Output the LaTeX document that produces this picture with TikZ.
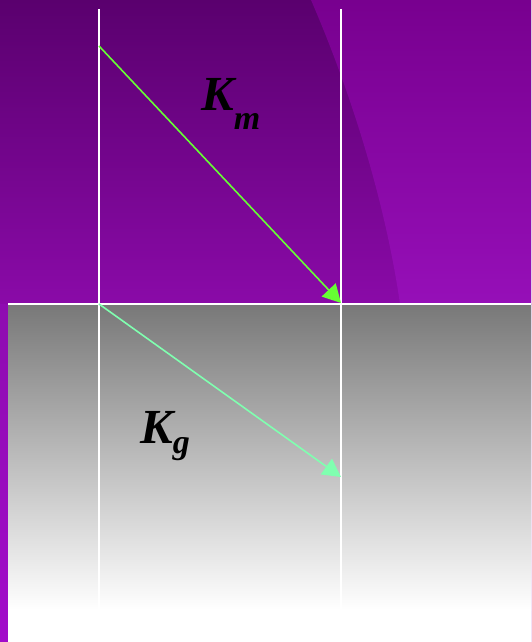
\documentclass[tikz,border=0pt]{standalone}
\usepackage{fontspec}
\setmainfont{Liberation Serif}
\usetikzlibrary{arrows.meta}
\definecolor{plumdark}{RGB}{90,0,110}
\definecolor{plummid}{RGB}{138,10,168}
\definecolor{plumside}{RGB}{142,12,176}
\definecolor{plumlow}{RGB}{162,12,202}
\definecolor{plumtop}{RGB}{120,0,143}
\definecolor{plumbot}{RGB}{150,15,184}
\definecolor{limegreen}{RGB}{102,255,51}
\definecolor{mintgreen}{RGB}{128,255,176}
\definecolor{graytop}{RGB}{120,120,120}

\begin{document}
\begin{tikzpicture}[x=1pt, y=-1pt,
  ray/.style={-{Triangle[length=18pt,width=19pt]}, line width=1.6pt},
  wall/.style={white, line width=1.5pt},
  sym/.style={inner sep=0pt, anchor=base west, text=black,
    font=\fontsize{49}{49}\selectfont\bfseries\itshape}
]
\useasboundingbox (0,0) rectangle (531,642);
% backdrop
\shade[top color=plumdark, bottom color=plummid] (0,0) rectangle (531,304);
\shade[top color=plumside, bottom color=plumlow] (0,304) rectangle (531,642);
\shade[top color=plumtop, bottom color=plumbot]
  (311,0) .. controls (350,90) and (385,200) .. (400,304) -- (531,304) -- (531,0) -- cycle;
\fill[white] (8,304) rectangle (531,642);
\shade[top color=graytop, bottom color=white] (8,304) rectangle (531,610);

\coordinate (ltop)   at (99,9);
\coordinate (lbot)   at (99,623);
\coordinate (rtop)   at (341,9);
\coordinate (rbot)   at (341,623);
\coordinate (sleft)  at (8,304);
\coordinate (sright) at (531,304);
\coordinate (mtop)   at (99,46);
\coordinate (mhit)   at (341,303);
\coordinate (gstart) at (99,304);
\coordinate (gend)   at (341,477);

\draw[wall] (ltop) -- (lbot);
\draw[wall] (rtop) -- (rbot);
\draw[wall, line width=2pt] (sleft) -- (sright);

\draw[ray, limegreen] (mtop) -- (mhit);
\draw[ray, mintgreen] (gstart) -- (gend);

\node[sym] (km) at (201,110) {K\lower19pt\hbox{\fontsize{34}{34}\selectfont m}};
\node[sym] (kg) at (140,443) {K\lower10pt\hbox{\fontsize{34}{34}\selectfont g}};
\end{tikzpicture}
\end{document}
